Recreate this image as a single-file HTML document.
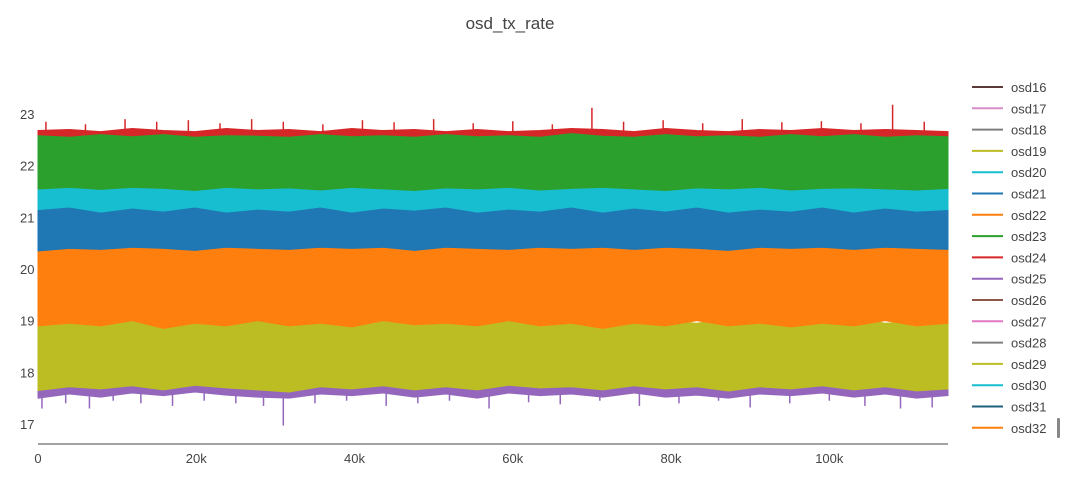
<!DOCTYPE html>
<html><head><meta charset="utf-8"><style>
body{margin:0;background:#fff;font-family:"Liberation Sans",sans-serif}
svg text{font-family:"Liberation Sans",sans-serif;fill:#444}
</style></head><body>
<svg id="c" width="1080" height="492">
<text x="510" y="29" font-size="17" text-anchor="middle">osd_tx_rate</text>
<g id="plot"></g>
<line x1="38" y1="444" x2="948" y2="444" stroke="#444" stroke-width="1"/>
<g id="ax"></g>
<g id="legend"></g>
<rect x="1057" y="418" width="3" height="20" fill="#888" rx="1"/>
</svg>
<script>
const yTicks=[17,18,19,20,21,22,23];
const xTicks=[0,20000,40000,60000,80000,100000];
const xTickLabels=["0","20k","40k","60k","80k","100k"];
const xMax=115000;
const legendNames=["osd16","osd17","osd18","osd19","osd20","osd21","osd22","osd23","osd24","osd25","osd26","osd27","osd28","osd29","osd30","osd31","osd32"];
const legendColors=["#5a3a3a","#d88cc8","#7f7f7f","#bcbd22","#17becf","#1f77b4","#ff7f0e","#2ca02c","#d62728","#9467bd","#8c564b","#e377c2","#7f7f7f","#bcbd22","#17becf","#1f5f7b","#ff7f0e"];
// band envelopes (30 samples across x range)
const purpleTop=[18.0,18.0,18.0,18.0,18.0,18.0,18.0,18.0,18.0,18.0,18.0,18.0,18.0,18.0,18.0,18.0,18.0,18.0,18.0,18.0,18.0,18.0,18.0,18.0,18.0,18.0,18.0,18.0,18.0,18.0];
const purpleBot=[17.5,17.58,17.52,17.6,17.55,17.62,17.56,17.52,17.5,17.58,17.55,17.6,17.52,17.58,17.5,17.6,17.55,17.58,17.52,17.6,17.52,17.56,17.5,17.58,17.55,17.6,17.52,17.58,17.5,17.55];
const yellowTop=[19.05,19.0,19.1,19.0,19.05,18.95,19.1,19.0,19.05,19.0,18.95,19.1,19.0,19.05,19.0,19.1,18.95,19.05,19.0,19.1,19.0,18.95,19.05,19.0,19.1,19.0,19.05,18.95,19.0,19.05];
const yellowBot=[17.65,17.72,17.68,17.74,17.66,17.75,17.7,17.66,17.62,17.72,17.68,17.74,17.66,17.72,17.66,17.75,17.7,17.72,17.66,17.74,17.68,17.72,17.64,17.72,17.68,17.74,17.66,17.72,17.64,17.68];
const orangeTop=[20.42,20.45,20.48,20.42,20.46,20.5,20.42,20.47,20.45,20.48,20.44,20.5,20.46,20.45,20.48,20.44,20.46,20.5,20.45,20.42,20.48,20.45,20.5,20.44,20.46,20.5,20.45,20.48,20.44,20.45];
const orangeBot=[18.9,18.95,18.9,19.0,18.85,18.95,18.9,19.0,18.9,18.95,18.88,19.0,18.92,18.95,18.9,19.0,18.9,18.95,18.85,18.95,18.9,19.0,18.9,18.95,18.88,18.95,18.9,19.0,18.9,18.95];
const blueTop=[21.3,21.3,21.3,21.3,21.3,21.3,21.3,21.3,21.3,21.3,21.3,21.3,21.3,21.3,21.3,21.3,21.3,21.3,21.3,21.3,21.3,21.3,21.3,21.3,21.3,21.3,21.3,21.3,21.3,21.3];
const blueBot=[20.35,20.4,20.38,20.42,20.4,20.36,20.42,20.4,20.38,20.42,20.4,20.42,20.36,20.42,20.4,20.38,20.42,20.4,20.42,20.38,20.42,20.4,20.36,20.42,20.4,20.42,20.38,20.42,20.4,20.38];
const cyanTop=[21.62,21.6,21.65,21.6,21.64,21.58,21.65,21.6,21.66,21.6,21.64,21.6,21.66,21.58,21.64,21.6,21.65,21.58,21.64,21.6,21.68,21.6,21.64,21.6,21.66,21.6,21.64,21.6,21.65,21.6];
const cyanBot=[21.15,21.2,21.1,21.18,21.12,21.2,21.1,21.16,21.12,21.2,21.1,21.18,21.14,21.2,21.1,21.16,21.12,21.2,21.1,21.18,21.12,21.2,21.1,21.16,21.12,21.2,21.1,21.18,21.12,21.15];
const redTop=[22.68,22.7,22.66,22.72,22.68,22.66,22.72,22.68,22.7,22.66,22.72,22.68,22.7,22.66,22.7,22.66,22.68,22.72,22.7,22.66,22.72,22.68,22.66,22.7,22.68,22.72,22.68,22.7,22.68,22.66];
const redBot=[22.4,22.4,22.4,22.4,22.4,22.4,22.4,22.4,22.4,22.4,22.4,22.4,22.4,22.4,22.4,22.4,22.4,22.4,22.4,22.4,22.4,22.4,22.4,22.4,22.4,22.4,22.4,22.4,22.4,22.4];
const greenTop=[22.58,22.55,22.6,22.56,22.6,22.55,22.58,22.57,22.55,22.6,22.56,22.58,22.55,22.6,22.56,22.58,22.55,22.62,22.57,22.55,22.6,22.56,22.58,22.55,22.6,22.56,22.6,22.55,22.58,22.56];
const greenBot=[21.55,21.58,21.54,21.58,21.56,21.52,21.58,21.55,21.57,21.53,21.58,21.55,21.52,21.57,21.55,21.58,21.53,21.56,21.58,21.55,21.52,21.57,21.55,21.58,21.53,21.56,21.57,21.55,21.53,21.56];
const bands=[["purple","#9467bd",purpleTop,purpleBot],["yellow","#bcbd22",yellowTop,yellowBot],["orange","#ff7f0e",orangeTop,orangeBot],["blue","#1f77b4",blueTop,blueBot],["cyan","#17becf",cyanTop,cyanBot],["red","#d62728",redTop,redBot],["green","#2ca02c",greenTop,greenBot]];
// spikes: x positions and extreme values
const redSpikeX=[1000,6000,11000,15000,19000,23000,27000,31000,36000,41000,45000,50000,55000,60000,65000,70000,74000,79000,84000,89000,94000,99000,104000,108000,112000];
const redSpikeY=[22.85,22.8,22.9,22.85,22.88,22.82,22.9,22.85,22.8,22.88,22.84,22.9,22.82,22.86,22.8,23.12,22.85,22.88,22.82,22.9,22.84,22.86,22.82,23.18,22.85];
const purpleSpikeX=[500,3500,6500,9500,13000,17000,21000,25000,28500,31000,35000,39000,44000,48000,52000,57000,62000,66000,71000,76000,81000,86000,90000,95000,100000,104500,109000,113000];
const purpleSpikeY=[17.3,17.4,17.3,17.45,17.4,17.35,17.45,17.4,17.35,16.97,17.4,17.45,17.35,17.4,17.45,17.3,17.42,17.38,17.45,17.35,17.4,17.45,17.32,17.4,17.45,17.35,17.3,17.32];
const orangeSpikeX=[3000,9000,15000,21000,27000,33000,40000,47000,53000,59000,66000,72000,78000,85000,91000,98000,104000,110000];
const orangeSpikeY=[20.65,20.6,20.7,20.62,20.65,20.6,20.7,20.85,20.62,20.65,20.6,20.68,20.62,20.65,20.7,20.6,20.65,20.62];
const cyanSpikeX=[2000,7000,12000,18000,24000,30000,37000,43000,49000,56000,63000,69000,75000,82000,88000,95000,101000,107000,113000];
const cyanSpikeY=[21.8,21.75,21.82,21.78,21.8,21.75,21.8,21.78,21.82,21.75,21.8,21.78,21.8,21.75,21.85,21.78,21.8,21.75,21.78];
const X0=38,X1=948,Y17=424,Y23=114;
const sx=v=>X0+(X1-X0)*v/xMax;
const sy=v=>Y17+(Y23-Y17)*(v-17)/6;
const NS="http://www.w3.org/2000/svg";
function mk(t,a,p){const e=document.createElementNS(NS,t);for(const k in a)e.setAttribute(k,a[k]);p.appendChild(e);return e;}
const plot=document.getElementById('plot');
function spikes(name,color,xs,ys,base){
  xs.forEach((x,i)=>{const l=mk('line',{x1:sx(x),x2:sx(x),y1:sy(base),y2:sy(ys[i]),stroke:color,'stroke-width':1.5},plot);
  
  });
}
spikes('purple','#9467bd',purpleSpikeX,purpleSpikeY,17.7);
spikes('orange','#ff7f0e',orangeSpikeX,orangeSpikeY,20.3);
spikes('cyan','#17becf',cyanSpikeX,cyanSpikeY,21.5);
spikes('red','#d62728',redSpikeX,redSpikeY,22.5);
bands.forEach(b=>{
  const top=b[2],bot=b[3],n=top.length;let pts=[];
  for(let i=0;i<n;i++){pts.push(sx(i*xMax/(n-1))+","+sy(top[i]));}
  for(let i=n-1;i>=0;i--){pts.push(sx(i*xMax/(n-1))+","+sy(bot[i]));}
  const p=mk('polygon',{points:pts.join(' '),fill:b[1],stroke:b[1],'stroke-width':1},plot);
  
  
});
const ax=document.getElementById('ax');
yTicks.forEach(v=>{const t=mk('text',{x:20,y:sy(v)+5,'font-size':13},ax);t.textContent=v;

});
xTicks.forEach((v,i)=>{const t=mk('text',{x:sx(v),y:463,'font-size':13,'text-anchor':'middle'},ax);t.textContent=xTickLabels[i];

});
const lg=document.getElementById('legend');
legendNames.forEach((n,i)=>{const y=87+i*21.3;
const g=mk('g',{},lg);


mk('line',{x1:972,y1:y,x2:1003,y2:y,stroke:legendColors[i],'stroke-width':2},g);
const t=mk('text',{x:1011,y:y+5,'font-size':13},g);t.textContent=n;});
</script>
</body></html>
